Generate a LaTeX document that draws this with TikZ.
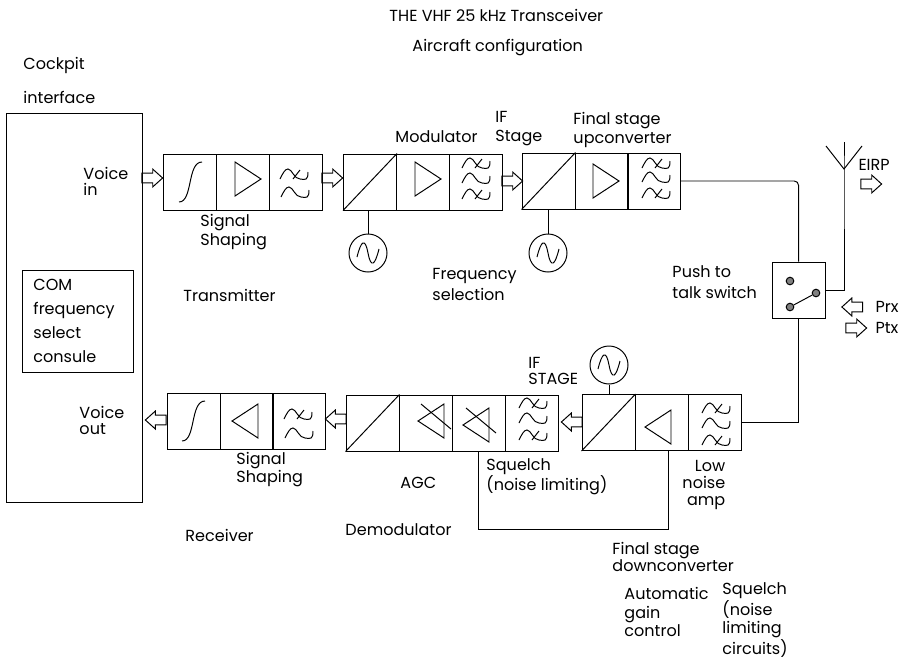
\documentclass[tikz,border=0pt]{standalone}
\usepackage{fontspec}
\setmainfont{Poppins}
\usetikzlibrary{positioning,shapes.arrows}
\tikzset{
  >=latex,
  every path/.style={line width=.7pt},
  stagebox/.style={draw,rectangle,minimum width=1.325cm,minimum height=1.4cm,inner sep=0pt},
  panel/.style={draw,rectangle,inner sep=0pt},
  lbl/.style={anchor=west,align=left,inner sep=0pt,font=\fontsize{11.4}{#1}\selectfont},
  lbl/.default=13.5,
  hollowR/.style={draw,single arrow,single arrow head extend=.1cm,single arrow tip angle=84,minimum width=.42cm,minimum height=.52cm,inner sep=.11cm},
  hollowL/.style={hollowR,shape border rotate=180},
  osc/.style={draw,circle,minimum size=.95cm,inner sep=0pt},
  contact/.style={draw,circle,fill=gray,minimum size=.19cm,inner sep=0pt},
  ampR/.pic={\draw (-8,-17)--(18,0)--(-8,17)--cycle;},
  ampL/.pic={\draw (8,-17)--(-18,0)--(8,17)--cycle;},
  ampX/.pic={\draw (8,-17)--(-18,0)--(8,17)--cycle; \draw (-15,-17)--(15,8);},
  scurve/.pic={\draw (-11,20) .. controls (3,20) and (-3,-20) .. (12,-20);},
  wave/.pic={\draw (-14,5) .. controls (-11,-1) and (-9,-5) .. (-6,-5) .. controls (-2,-5) and (0,5) .. (6,5) .. controls (12,6) and (14,6) .. (14,-2);},
  waveX/.pic={\pic {wave}; \draw (-1,5)--(6,-4);}
}
\begin{document}
\begin{tikzpicture}[x=.025cm,y=-.025cm]
  \useasboundingbox (0,0) rectangle (902,659);
  % cockpit side
  \node[panel,minimum width=3.42cm,minimum height=9.7cm] (cockpit) at (74.5,308) {};
  \node[panel,minimum width=2.75cm,minimum height=2.55cm] (com) at (78,321) {};
  % transmit chain
  \node[stagebox] (shapeT) at (190,182) {};
  \node[stagebox] (ampT) at (243,182) {};
  \node[stagebox] (filtT) at (295.5,182) {};
  \node[stagebox] (mixM) at (370,182) {};
  \node[stagebox] (ampM) at (423,182) {};
  \node[stagebox] (filtM) at (475.5,182) {};
  \node[stagebox] (mixF) at (548.5,181) {};
  \node[stagebox] (ampF) at (601.5,181) {};
  \node[stagebox] (filtF) at (654,181) {};
  % receive chain
  \node[stagebox] (shapeR) at (193.5,421.5) {};
  \node[stagebox] (ampR) at (246.5,421.5) {};
  \node[stagebox] (filtR) at (298.5,421.5) {};
  \node[stagebox] (demod) at (372.5,423) {};
  \node[stagebox] (agc) at (425.5,423) {};
  \node[stagebox] (squelch) at (478.5,423) {};
  \node[stagebox] (filtS) at (532,423) {};
  \node[stagebox] (mixD) at (608.5,422.5) {};
  \node[stagebox] (lna) at (661.5,422.5) {};
  \node[stagebox] (filtD) at (715,422.5) {};
  \foreach \n in {mixM,mixF,demod,mixD}{\draw (\n.south west)--(\n.north east);}
  % symbols
  \pic at (190,182) {scurve};
  \pic at (193,421) {scurve};
  \pic at (243,179) {ampR};
  \pic at (423,179) {ampR};
  \pic at (601,181) {ampR};
  \pic at (250,421) {ampL};
  \pic at (663,427) {ampL};
  \pic at (436,421) {ampX};
  \pic at (481,425) {ampX};
  \pic at (294,174) {waveX};
  \pic at (295,192) {wave};
  \pic at (298,414) {waveX};
  \pic at (299,433) {wave};
  \foreach \x/\a/\b/\c in {476/163/178/194,656/163/177/193,533/403/418/435,716/408/423/440}{
    \pic at (\x,\a) {waveX};
    \pic at (\x,\b) {wave};
    \pic at (\x,\c) {waveX};
  }
  % oscillators
  \node[osc] (oscM) at (368,253) {};
  \node[osc] (oscF) at (548,253) {};
  \node[osc] (oscD) at (609,365) {};
  \foreach \n in {oscM,oscF,oscD}{
    \draw ([shift={(-11,4)}]\n.center) .. controls ([shift={(-7,-12)}]\n.center) and ([shift={(-3,-16)}]\n.center) .. (\n.center) .. controls ([shift={(3,16)}]\n.center) and ([shift={(7,12)}]\n.center) .. ([shift={(11,-4)}]\n.center);
  }
  \draw (oscM.north)--(oscM.north |- mixM.south);
  \draw (oscF.north)--(oscF.north |- mixF.south);
  \draw (oscD.south)--(oscD.south |- mixD.north);
  % switch and antenna
  \node[panel,minimum width=1.325cm,minimum height=1.4cm] (ptt) at (798.5,290) {};
  \node[contact] (swA) at (790,281) {};
  \node[contact] (swB) at (816,293) {};
  \node[contact] (swC) at (790,307) {};
  \draw (swC)--(swB);
  \coordinate (antFeed) at (844,169);
  \coordinate (antTop) at (844,142);
  \coordinate (antL) at (826,146);
  \coordinate (antR) at (862,146);
  \draw (ptt.east) -| (antFeed)--(antTop);
  \draw (antL)--(antFeed)--(antR);
  \draw[rounded corners=3pt] (filtF.east) -| (ptt.north);
  \draw (ptt.south) |- (filtD.east);
  % squelch loop
  \coordinate (loopR) at (668,529);
  \draw (squelch.south) |- (loopR)--(loopR |- lna.south);
  % signal arrows
  \node[hollowR] (arTa) at (149.5,178) {};
  \node[hollowR] (arTb) at (329.5,178) {};
  \node[hollowR] (arTc) at (509.5,181) {};
  \node[hollowL] (arRa) at (158.5,420) {};
  \node[hollowL] (arRb) at (338.5,419) {};
  \node[hollowL] (arRc) at (574.5,422) {};
  \node[hollowR] (arE) at (868.5,184) {};
  \node[hollowL] (arP) at (855,307) {};
  \node[hollowR] (arQ) at (853.5,328) {};
  % labels
  \node[lbl] (title) at (389,15) {THE VHF 25 kHz Transceiver};
  \node[lbl] (config) at (412,48) {Aircraft configuration};
  \node[lbl] (cock) at (23,65) {Cockpit};
  \node[lbl] (iface) at (23,97) {interface};
  \node[lbl=11.4] (vin) at (83,181) {Voice\\in};
  \node[lbl=14] (ss1) at (200,232) {Signal\\Shaping};
  \node[lbl] (modl) at (395,137) {Modulator};
  \node[lbl] (ifs) at (495,128.5) {IF\\Stage};
  \node[lbl] (fsu) at (573,129.5) {Final stage\\upconverter};
  \node[lbl] (eirp) at (858,165) {EIRP};
  \node[lbl=15] (fsel) at (432,284.5) {Frequency\\selection};
  \node[lbl=15] (push) at (672,282.5) {Push to\\talk switch};
  \node[lbl] (prx) at (875,307) {Prx};
  \node[lbl] (ptx) at (875,328) {Ptx};
  \node[lbl] (txl) at (183,295) {Transmitter};
  \node[lbl=17] (coml) at (33,321) {COM\\frequency\\select\\consule};
  \node[lbl=11.4] (vout) at (79,420) {Voice\\out};
  \node[lbl=12.8] (ss2) at (236,470) {Signal\\Shaping};
  \node[lbl] (agcl) at (400,483) {AGC};
  \node[lbl] (rxl) at (185,535) {Receiver};
  \node[lbl] (dem) at (345,530) {Demodulator};
  \node[lbl=11.4] (ifr) at (528,371) {IF\\STAGE};
  \node[lbl=14] (sql) at (486,477) {Squelch\\(noise limiting)};
  \node[lbl=12.3,align=right] (lnal) at (682,485) {Low\\noise\\amp};
  \node[lbl=11.4] (fsd) at (612,557) {Final stage\\downconverter};
  \node[lbl=13] (autog) at (624,612) {Automatic\\gain\\control};
  \node[lbl=13] (sqc) at (722,620) {Squelch\\(noise\\limiting\\circuits)};
\end{tikzpicture}
\end{document}
